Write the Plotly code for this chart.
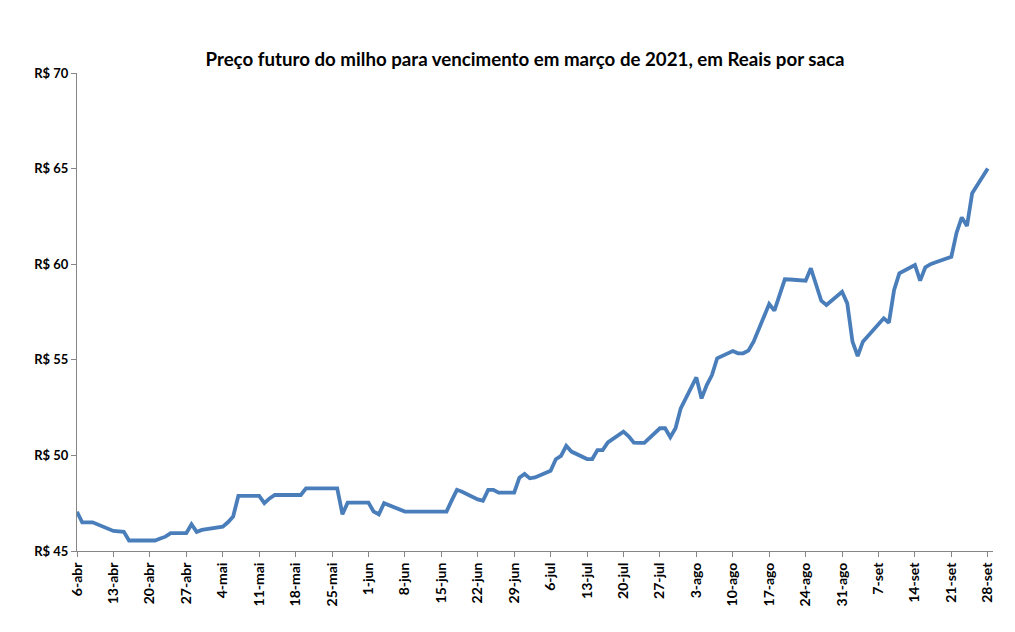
import plotly.graph_objects as go

dates = [
    "2020-04-06", "2020-04-07", "2020-04-08", "2020-04-09", "2020-04-13", "2020-04-14",
    "2020-04-15", "2020-04-16", "2020-04-17", "2020-04-20", "2020-04-21", "2020-04-22",
    "2020-04-23", "2020-04-24", "2020-04-27", "2020-04-28", "2020-04-29", "2020-04-30",
    "2020-05-04", "2020-05-05", "2020-05-06", "2020-05-07", "2020-05-08", "2020-05-11",
    "2020-05-12", "2020-05-13", "2020-05-14", "2020-05-15", "2020-05-18", "2020-05-19",
    "2020-05-20", "2020-05-21", "2020-05-22", "2020-05-25", "2020-05-26", "2020-05-27",
    "2020-05-28", "2020-05-29", "2020-06-01", "2020-06-02", "2020-06-03", "2020-06-04",
    "2020-06-05", "2020-06-08", "2020-06-09", "2020-06-10", "2020-06-12", "2020-06-15",
    "2020-06-16", "2020-06-17", "2020-06-18", "2020-06-19", "2020-06-22", "2020-06-23",
    "2020-06-24", "2020-06-25", "2020-06-26", "2020-06-29", "2020-06-30", "2020-07-01",
    "2020-07-02", "2020-07-03", "2020-07-06", "2020-07-07", "2020-07-08", "2020-07-09",
    "2020-07-10", "2020-07-13", "2020-07-14", "2020-07-15", "2020-07-16", "2020-07-17",
    "2020-07-20", "2020-07-21", "2020-07-22", "2020-07-23", "2020-07-24", "2020-07-27",
    "2020-07-28", "2020-07-29", "2020-07-30", "2020-07-31", "2020-08-03", "2020-08-04",
    "2020-08-05", "2020-08-06", "2020-08-07", "2020-08-10", "2020-08-11", "2020-08-12",
    "2020-08-13", "2020-08-14", "2020-08-17", "2020-08-18", "2020-08-19", "2020-08-20",
    "2020-08-21", "2020-08-24", "2020-08-25", "2020-08-26", "2020-08-27", "2020-08-28",
    "2020-08-31", "2020-09-01", "2020-09-02", "2020-09-03", "2020-09-04", "2020-09-08",
    "2020-09-09", "2020-09-10", "2020-09-11", "2020-09-14", "2020-09-15", "2020-09-16",
    "2020-09-17", "2020-09-18", "2020-09-21", "2020-09-22", "2020-09-23", "2020-09-24",
    "2020-09-25", "2020-09-28",
]

prices = [
    47.05, 46.5, 46.5, 46.5, 46.05, 46.0,
    46.0, 45.55, 45.55, 45.55, 45.55, 45.65,
    45.75, 45.93, 45.93, 46.4, 46.0, 46.1,
    46.27, 46.5, 46.8, 47.88, 47.88, 47.88,
    47.5, 47.75, 47.93, 47.93, 47.93, 47.93,
    48.28, 48.28, 48.28, 48.28, 48.28, 46.92,
    47.53, 47.53, 47.53, 47.06, 46.92, 47.5,
    47.4, 47.06, 47.06, 47.06, 47.06, 47.06,
    47.06, 47.65, 48.2, 48.1, 47.7, 47.63,
    48.2, 48.2, 48.05, 48.05, 48.84, 49.03,
    48.8, 48.85, 49.2, 49.8, 49.97, 50.5,
    50.2, 49.81, 49.81, 50.28, 50.28, 50.68,
    51.24, 51.0, 50.67, 50.65, 50.65, 51.42,
    51.42, 50.95, 51.42, 52.46, 54.08, 52.98,
    53.68, 54.2, 55.08, 55.46, 55.34, 55.34,
    55.48, 55.95, 57.92, 57.57, 58.4, 59.21,
    59.2, 59.14, 59.79, 58.9, 58.09, 57.87,
    58.56, 57.95, 55.95, 55.2, 55.95, 57.17,
    56.94, 58.65, 59.52, 59.96, 59.14, 59.84,
    60.0, 60.1, 60.39, 61.65, 62.45, 62.0,
    63.71, 65.0,
]

x_tick_dates = [
    "2020-04-06", "2020-04-13", "2020-04-20", "2020-04-27", "2020-05-04", "2020-05-11",
    "2020-05-18", "2020-05-25", "2020-06-01", "2020-06-08", "2020-06-15", "2020-06-22",
    "2020-06-29", "2020-07-06", "2020-07-13", "2020-07-20", "2020-07-27", "2020-08-03",
    "2020-08-10", "2020-08-17", "2020-08-24", "2020-08-31", "2020-09-07", "2020-09-14",
    "2020-09-21", "2020-09-28",
]
x_tick_labels = [
    "6-abr", "13-abr", "20-abr", "27-abr", "4-mai", "11-mai", "18-mai", "25-mai",
    "1-jun", "8-jun", "15-jun", "22-jun", "29-jun", "6-jul", "13-jul", "20-jul",
    "27-jul", "3-ago", "10-ago", "17-ago", "24-ago", "31-ago", "7-set", "14-set",
    "21-set", "28-set",
]

y_tick_values = [45, 50, 55, 60, 65, 70]
y_tick_labels = ["R$ 45", "R$ 50", "R$ 55", "R$ 60", "R$ 65", "R$ 70"]

title_text = "Preço futuro do milho para vencimento em março de 2021, em Reais por saca"

FONT = "Lato"

fig = go.Figure()
fig.add_trace(go.Scatter(
    x=dates, y=prices, mode="lines",
    line=dict(color="#4A7EBB", width=3.8),
    hoverinfo="x+y", showlegend=False,
))

# page body has an 8px default margin, so figure coordinates are offset by 8px
fig.update_layout(
    width=1015, height=632,
    margin=dict(l=69, r=30, t=65, b=89, autoexpand=False),
    paper_bgcolor="white", plot_bgcolor="white",
    font=dict(family=FONT, color="black"),
    title=dict(
        text="<b>" + title_text + "</b>",
        x=517 / 1015, xanchor="center", xref="container",
        y=1 - 51 / 632, yanchor="middle", yref="container",
        font=dict(family=FONT, size=18.7, color="black"),
    ),
)

fig.update_xaxes(
    type="date",
    range=["2020-04-06", "2020-09-29"],
    tickmode="array", tickvals=x_tick_dates,
    ticktext=["<b>" + t + "</b>" for t in x_tick_labels],
    tickangle=-90, automargin=False,
    ticks="outside", ticklen=5, tickcolor="#868686", tickwidth=1,
    showline=True, linecolor="#868686", linewidth=1,
    showgrid=False, zeroline=False,
    tickfont=dict(family=FONT, size=14, color="black"),
)
fig.update_yaxes(
    range=[45, 70], automargin=False,
    tickmode="array", tickvals=y_tick_values,
    ticktext=["<b>" + t + "</b>" for t in y_tick_labels],
    ticks="outside", ticklen=5, tickcolor="#868686", tickwidth=1,
    showline=True, linecolor="#868686", linewidth=1,
    showgrid=False, zeroline=False,
    tickfont=dict(family=FONT, size=13, color="black"),
)

fig.write_html("out.html")
